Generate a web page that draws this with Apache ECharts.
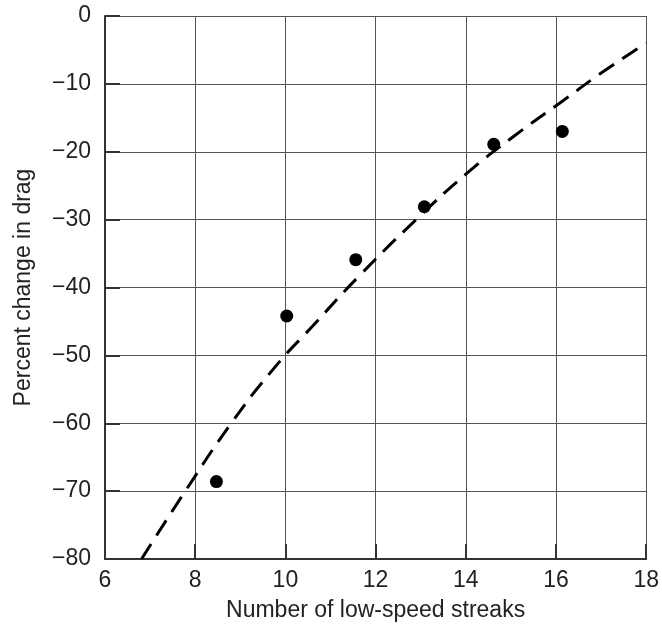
<!DOCTYPE html>
<html>
<head>
<meta charset="utf-8">
<script src="https://cdn.jsdelivr.net/npm/echarts@6.0.0/dist/echarts.min.js"></script>
<style>
  html, body { margin: 0; padding: 0; background: #fff; }
  #chart { width: 662px; height: 628px; }
</style>
</head>
<body>
<div id="chart"></div>
<script>
  // measured points (streak count vs drag change)
  const streaks = [8.47, 10.03, 11.56, 13.08, 14.62, 16.14];
  const dragChange = [-68.6, -44.2, -35.9, -28.1, -18.9, -17.0];

  // dashed fit curve
  const fitX = [6.81, 7.79, 8.80, 9.76, 10.60, 11.65, 12.93, 14.02, 15.05, 16.17, 17.09, 18.0];
  const fitY = [-80, -69.9, -60.0, -51.8, -45.7, -38.2, -29.8, -23.2, -17.8, -12.4, -8.0, -4.0];

  const xTicks = [6, 8, 10, 12, 14, 16, 18];
  const yTicks = [-80, -70, -60, -50, -40, -30, -20, -10, 0];

  const font = "'Liberation Sans', Arial, sans-serif";
  const minus = v => String(v).replace('-', '\u2212');

  const chart = echarts.init(document.getElementById('chart'));

  const pts = streaks.map((x, i) => [x, dragChange[i]]);
  const fit = fitX.map((x, i) => [x, fitY[i]]);

  chart.setOption({
    animation: false,
    backgroundColor: '#fff',
    grid: { left: 105, right: 15, top: 16, bottom: 69 },
    xAxis: {
      type: 'value',
      min: xTicks[0],
      max: xTicks[xTicks.length - 1],
      interval: 2,
      name: 'Number of low-speed streaks',
      nameLocation: 'middle',
      nameGap: 40,
      nameTextStyle: { fontFamily: font, fontSize: 23, color: '#222' },
      axisLine: { onZero: false, lineStyle: { color: '#333', width: 2 } },
      axisTick: { inside: true, length: 15, lineStyle: { color: '#333', width: 2 } },
      axisLabel: { fontFamily: font, fontSize: 23, color: '#222', margin: 10, formatter: minus },
      splitLine: { show: true, lineStyle: { color: '#555', width: 1 } }
    },
    yAxis: {
      type: 'value',
      min: yTicks[0],
      max: yTicks[yTicks.length - 1],
      interval: 10,
      name: 'Percent change in drag',
      nameLocation: 'middle',
      nameGap: 70,
      nameTextStyle: { fontFamily: font, fontSize: 23, color: '#222' },
      axisLine: { onZero: false, lineStyle: { color: '#333', width: 2 } },
      axisTick: { inside: true, length: 15, lineStyle: { color: '#333', width: 2 } },
      axisLabel: { fontFamily: font, fontSize: 23, color: '#222', margin: 14, formatter: minus },
      splitLine: { show: true, lineStyle: { color: '#555', width: 1 } }
    },
    series: [
      {
        type: 'line',
        data: fit,
        smooth: 0.5,
        showSymbol: false,
        silent: true,
        lineStyle: { color: '#000', width: 3, type: [18, 10] },
        z: 3
      },
      {
        type: 'scatter',
        data: pts,
        symbol: 'circle',
        symbolSize: 13,
        itemStyle: { color: '#000', opacity: 1 },
        z: 4
      }
    ]
  });
</script>
</body>
</html>
